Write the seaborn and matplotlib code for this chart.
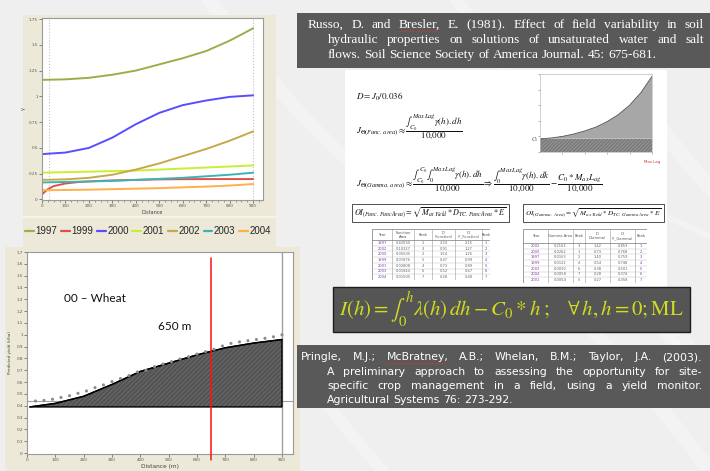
import matplotlib
matplotlib.use("Agg")
import matplotlib.pyplot as plt
from matplotlib.patches import Rectangle, Polygon
from matplotlib.lines import Line2D
from matplotlib.ticker import MultipleLocator, FuncFormatter
from matplotlib import font_manager
import numpy as np
import pandas as pd
import seaborn as sns

sns.set_theme(style="white")
plt.rcParams["font.family"] = ["DejaVu Sans"]
plt.rcParams["mathtext.fontset"] = "stix"
plt.rcParams["hatch.linewidth"] = 0.42

W, H = 710, 471

# ---- seasonal yield-index curves along the transect (m) ----
years = ["1997", "1999", "2000", "2001", "2002", "2003", "2004"]
year_colors = ["#9aae4a", "#e0504a", "#5a4cff", "#c8f032", "#c8a84a", "#3cb4b4", "#ffb04a"]
dist = [0, 100, 200, 300, 400, 500, 600, 700, 800, 900]
dist_1999 = [0, 25, 50, 100, 150, 200, 300, 400, 500, 600, 700, 800, 900]
y1997 = [1.16, 1.165, 1.18, 1.21, 1.25, 1.31, 1.37, 1.44, 1.54, 1.66]
y1999 = [0.05, 0.10, 0.13, 0.155, 0.168, 0.175, 0.185, 0.19, 0.195, 0.197, 0.198, 0.198, 0.198]
y2000 = [0.44, 0.455, 0.50, 0.60, 0.73, 0.84, 0.915, 0.96, 0.995, 1.01]
y2001 = [0.26, 0.265, 0.27, 0.275, 0.28, 0.29, 0.30, 0.31, 0.32, 0.33]
y2002 = [0.19, 0.195, 0.21, 0.24, 0.29, 0.35, 0.42, 0.49, 0.57, 0.66]
y2003 = [0.165, 0.17, 0.175, 0.18, 0.19, 0.20, 0.21, 0.225, 0.24, 0.26]
y2004 = [0.09, 0.092, 0.095, 0.10, 0.105, 0.11, 0.118, 0.125, 0.135, 0.15]

# ---- 2000 wheat transect: fitted trend, observations, threshold ----
wheat_dist = [10, 100, 200, 300, 400, 500, 600, 650, 700, 800, 900]
wheat_fit = [0.39, 0.42, 0.48, 0.58, 0.69, 0.76, 0.83, 0.86, 0.89, 0.93, 0.96]
wheat_obs_dist = [30, 60, 90, 120, 150, 180, 210, 240, 270, 300, 330, 360, 390, 420, 450,
                  480, 510, 540, 570, 600, 630, 660, 690, 720, 750, 780, 810, 840, 870, 900]
wheat_obs = [0.44, 0.445, 0.455, 0.47, 0.485, 0.505, 0.525, 0.553, 0.576, 0.604, 0.63, 0.655,
             0.686, 0.70, 0.73, 0.753, 0.773, 0.795, 0.815, 0.837, 0.857, 0.877, 0.905, 0.927,
             0.94, 0.95, 0.96, 0.97, 0.983, 1.0]
wheat_base = 0.39
wheat_mean = 0.44
cut_dist = 650

# ---- semivariogram sketch (lag vs gamma) ----
lag_small = [0, 1, 2, 3, 4, 5, 6, 7, 8, 9, 10]
gamma_small = [0.17, 0.18, 0.20, 0.23, 0.27, 0.32, 0.39, 0.48, 0.60, 0.76, 0.97]
c0_small = 0.17

# ---- ranking tables ----
func_header = ["Year", "Function\nArea", "Rank", "D\n(Function)", "OI\n(F_Function)", "Rank"]
func_years = ["1997", "2002", "2000", "1999", "2001", "2003", "2004"]
func_area = ["0.42030", "0.10327", "0.05635", "0.01876", "0.02808", "0.01844", "0.01505"]
func_area_rank = ["1", "3", "2", "5", "4", "6", "7"]
func_d = ["2.34", "0.91", "1.54", "0.47", "0.73", "0.52", "0.28"]
func_oi = ["2.15", "1.27", "1.26", "0.99", "0.89", "0.67", "0.48"]
func_oi_rank = ["1", "2", "3", "4", "5", "6", "7"]

gamma_header = ["Year", "Gamma Area", "Rank", "D\n(Gamma)", "OI\n(F_Gamma)", "Rank"]
gamma_years = ["2002", "2000", "1997", "1999", "2003", "2004", "2001"]
gamma_area = ["0.2163", "0.0262", "0.0163", "0.0122", "0.0092", "0.0058", "0.0054"]
gamma_area_rank = ["3", "1", "2", "4", "6", "7", "5"]
gamma_d = ["1.42", "0.73", "1.40", "0.54", "0.38", "0.28", "0.27"]
gamma_oi = ["0.853", "0.768", "0.759", "0.748", "0.501", "0.374", "0.358"]
gamma_oi_rank = ["1", "2", "3", "4", "5", "6", "7"]

russo_lines = [
    "Russo, D. and Bresler, E. (1981). Effect of field variability in soil",
    "hydraulic properties on solutions of unsaturated water and salt",
    "flows.  Soil Science Society of America Journal. 45: 675-681.",
]
pringle_lines = [
    "Pringle, M.J.; McBratney, A.B.; Whelan, B.M.; Taylor, J.A. (2003).",
    "A preliminary approach to assessing the opportunity for site-",
    "specific crop management in a field, using a yield monitor.",
    "Agricultural Systems 76: 273-292.",
]

BEIGE = "#ece9d8"
DARK = "#595959"


def fx(x):
    return np.asarray(x) / W if np.ndim(x) else x / W


def fy(y):
    return 1 - np.asarray(y) / H if np.ndim(y) else 1 - y / H


def box(x0, y0, x1, y1):
    return [x0 / W, 1 - y1 / H, (x1 - x0) / W, (y1 - y0) / H]


def panel(x0, y0, x1, y1, fc, ec="none", lw=0, z=0):
    fig.add_artist(Rectangle((fx(x0), fy(y1)), (x1 - x0) / W, (y1 - y0) / H,
                             transform=fig.transFigure, facecolor=fc, edgecolor=ec,
                             linewidth=lw, zorder=z))


installed = {f.name for f in font_manager.fontManager.ttflist}
if "Liberation Sans Narrow" in installed:
    legend_prop = {"family": "Liberation Sans Narrow", "size": 8.2}
else:
    legend_prop = {"family": "Liberation Sans", "size": 7.0}

fig = plt.figure(figsize=(W / 100, H / 100), dpi=100, facecolor="#efefef")
renderer = fig.canvas.get_renderer()

# faint wave streaks on the slide background
t = np.linspace(0, 1, 60)
for x_start, y_start, amp, thick in [(200, 0, 30, 18), (450, 0, 40, 14), (600, 60, 35, 20),
                                     (560, 200, 45, 16), (640, 300, 30, 22), (300, 380, 25, 15)]:
    xs = x_start + 500 * t
    ys = y_start + 470 * t + amp * np.sin(t * np.pi * 2)
    upper = np.column_stack([fx(xs), fy(ys)])
    lower = np.column_stack([fx(xs + thick)[::-1], fy(ys)[::-1]])
    fig.add_artist(Polygon(np.vstack([upper, lower]), closed=True, transform=fig.transFigure,
                           facecolor="white", edgecolor="none", alpha=0.3, zorder=0))

# background panels
panel(23, 15, 276, 247, BEIGE)
panel(5, 247, 300, 471, BEIGE)
panel(297, 13, 710, 68, DARK)
panel(345, 70, 667, 287, "white")
panel(333, 287, 690, 332, "#555555", ec="#1e1e1e", lw=1.0, z=1)
panel(297, 345, 710, 408, DARK)

# ---------------- top chart: curves per season ----------------
frames = []
for yr, xs, ys in [("1997", dist, y1997), ("1999", dist_1999, y1999), ("2000", dist, y2000),
                   ("2001", dist, y2001), ("2002", dist, y2002), ("2003", dist, y2003),
                   ("2004", dist, y2004)]:
    frames.append(pd.DataFrame({"Distance": xs, "value": ys, "Year": yr}))
curves = pd.concat(frames, ignore_index=True)

ax1 = fig.add_axes(box(42, 18, 263, 200))
ax1.set_facecolor("white")
ax1.axvline(30, color="#c0c0c0", lw=0.8, ls=":")
ax1.axvline(900, color="#c0c0c0", lw=0.8, ls=":")
sns.lineplot(data=curves, x="Distance", y="value", hue="Year", hue_order=years,
             palette=dict(zip(years, year_colors)), lw=1.4, estimator=None,
             sort=False, ax=ax1)
ax1.set_xlim(0, 942)
ax1.set_ylim(-0.005, 1.76)
ax1.xaxis.set_major_locator(MultipleLocator(100))
ax1.xaxis.set_minor_locator(MultipleLocator(25))
ax1.yaxis.set_major_locator(MultipleLocator(0.25))
ax1.yaxis.set_major_formatter(FuncFormatter(lambda v, p: f"{v:g}"))
ax1.tick_params(axis="both", which="major", labelsize=3, length=2, width=0.5,
                colors="#555555", pad=1, bottom=True, left=True)
ax1.tick_params(axis="x", which="minor", length=1.2, width=0.4, bottom=True, colors="#555555")
ax1.set_xlabel("Distance", fontsize=3.5, labelpad=1, color="#444444")
ax1.set_ylabel("γ", fontsize=3.5, labelpad=2, color="#444444")
for s in ax1.spines.values():
    s.set_color("#9a9a9a")
    s.set_linewidth(0.8)
sns.move_legend(ax1, "center", bbox_to_anchor=((148 - 42) / 221, (200 - 231) / 182),
                ncol=7, frameon=False, title=None, handlelength=0.9, handletextpad=0.15,
                columnspacing=0.4, borderpad=0, prop=legend_prop)
for line in ax1.get_legend().get_lines():
    line.set_linewidth(1.6)
fig.add_artist(Line2D([fx(23), fx(276)], [fy(217), fy(217)], color="#f8f6ee", lw=1.2))

# ---------------- bottom chart: 2000 wheat transect ----------------
ax2 = fig.add_axes(box(27, 252, 293, 454))
ax2.set_facecolor("white")
ax2.fill_between(wheat_dist, wheat_base, wheat_fit, facecolor="white", edgecolor="black",
                 hatch="/" * 26, lw=1.0, zorder=2)
sns.lineplot(x=wheat_dist, y=wheat_fit, color="black", lw=1.0, ax=ax2, zorder=3)
sns.scatterplot(x=wheat_obs_dist, y=wheat_obs, color="#8c8c8c", s=5, edgecolor="none",
                ax=ax2, zorder=3)
ax2.axhline(wheat_mean, color="#a0a0a0", lw=0.8, zorder=1)
ax2.axvline(900, color="#a0a0a0", lw=1.0, zorder=1)
ax2.plot([cut_dist, cut_dist], [-0.06, 1.65], color="#ff1010", lw=1.1, clip_on=False, zorder=4)
ax2.set_xlim(0, 939)
ax2.set_ylim(-0.008, 1.7)
ax2.xaxis.set_major_locator(MultipleLocator(100))
ax2.yaxis.set_major_locator(MultipleLocator(0.1))
ax2.yaxis.set_major_formatter(FuncFormatter(lambda v, p: f"{round(v, 1):g}"))
ax2.tick_params(axis="both", labelsize=3, length=2, width=0.5, colors="#555555", pad=1,
                bottom=True, left=True)
ax2.set_xlabel("Distance (m)", fontsize=4.2, labelpad=1, color="#444444")
ax2.set_ylabel("Predicted yield (t/ha)", fontsize=3, labelpad=3, color="#444444")
for s in ax2.spines.values():
    s.set_color("#9a9a9a")
    s.set_linewidth(0.8)
fig.text(fx(64), fy(298), "00 – Wheat", fontsize=8.5, family=["Lato", "DejaVu Sans"],
         va="center", ha="left", color="#111111")
fig.text(fx(158), fy(327), f"{cut_dist} m", fontsize=8.5, family=["Lato", "DejaVu Sans"],
         va="center", ha="left", color="#111111")


# ---------------- justified reference text ----------------
def text_line(s, x0, x1, y, size, family, color, justify=True, squiggle=()):
    words = s.split()
    objs = [fig.text(0, fy(y), w, fontsize=size, family=family, color=color,
                     va="center", ha="left", zorder=5) for w in words]
    widths = [o.get_window_extent(renderer).width for o in objs]
    if justify and len(words) > 1:
        gap = (x1 - x0 - sum(widths)) / (len(words) - 1)
    else:
        probe = fig.text(0, 0, "a a", fontsize=size, family=family)
        probe2 = fig.text(0, 0, "aa", fontsize=size, family=family)
        gap = probe.get_window_extent(renderer).width - probe2.get_window_extent(renderer).width
        probe.remove()
        probe2.remove()
    x = x0
    for o, w, word in zip(objs, widths, words):
        o.set_x(fx(x))
        if word.rstrip(",;") in squiggle:
            xs = np.linspace(x, x + w - 3, 16)
            ys = y + 6.0 + np.where(np.arange(16) % 2 == 0, 0, 1.0)
            fig.add_artist(Line2D(fx(xs), fy(ys), color="#e03030", lw=0.4, zorder=6))
        x += w + gap


serif = ["Liberation Serif", "DejaVu Serif"]
text_line(russo_lines[0], 308, 704, 25, 9.6, serif, "white", squiggle=("Bresler",))
text_line(russo_lines[1], 328, 704, 40, 9.6, serif, "white")
text_line(russo_lines[2], 328, 704, 55, 9.6, serif, "white", justify=False)

sans = ["DejaVu Sans"]
text_line(pringle_lines[0], 301, 702, 357, 7.8, sans, "white", squiggle=("McBratney",))
text_line(pringle_lines[1], 327, 702, 372, 7.8, sans, "white")
text_line(pringle_lines[2], 327, 702, 386, 7.8, sans, "white")
text_line(pringle_lines[3], 327, 702, 400, 7.8, sans, "white", justify=False)

# ---------------- formulas ----------------
fig.text(fx(511), fy(309),
         r"$I(h) = \int_0^h \lambda(h)\,dh - C_0 * h\;;\quad \forall\, h, h = 0;\mathrm{ML}$",
         fontsize=15, color="#d2dc1e", ha="center", va="center", zorder=5)

fig.text(fx(356), fy(97), r"$D = J_0/0.036$", fontsize=6.5, va="center", color="#111111")
fig.text(fx(356), fy(127),
         r"$J_{\Theta(Func.\,area)} \approx \dfrac{\int_{C_0}^{Max\,Lag}\gamma(h).dh}{10{,}000}$",
         fontsize=6.5, va="center", color="#111111")
fig.text(fx(356), fy(180),
         r"$J_{\Theta(Gamma.\,area)} \approx \dfrac{\int_{C_0}^{C_0}\int_{0}^{Max\,Lag}\gamma(h).dh}"
         r"{10{,}000} \Rightarrow \dfrac{\int_{0}^{Max\,Lag}\gamma(h).dk}{10{,}000}"
         r" - \dfrac{C_0 * M_{ax}L_{ag}}{10{,}000}$",
         fontsize=6.5, va="center", color="#111111")
fig.text(fx(354), fy(213),
         r"$OI_{(Func.\,Func\,Area)} = \sqrt{M_{ax\,Yield} * D_{TC.\,Func\,Area} * E}$",
         fontsize=5.9, va="center", color="#111111",
         bbox=dict(boxstyle="square,pad=0.25", fc="white", ec="#333333", lw=0.6))
fig.text(fx(525), fy(213),
         r"$OI_{(Gamma.\,Area)} = \sqrt{M_{ax\,Yield} * D_{TC.\,Gamma\,Area} * E}$",
         fontsize=5.2, va="center", color="#111111",
         bbox=dict(boxstyle="square,pad=0.3", fc="white", ec="#333333", lw=0.6))

# ---------------- semivariogram sketch ----------------
ax3 = fig.add_axes(box(540, 74, 652, 152))
ax3.set_facecolor("white")
ax3.fill_between(lag_small, 0, c0_small, facecolor="white", edgecolor="#333333",
                 hatch="/" * 24, lw=0)
ax3.fill_between(lag_small, c0_small, gamma_small, facecolor="white", edgecolor="#8a8a8a",
                 hatch="\\" * 30, lw=0)
sns.lineplot(x=lag_small, y=gamma_small, color="#555555", lw=0.6, ax=ax3)
ax3.set_xlim(0, 10)
ax3.set_ylim(0, 1)
ax3.set_xticks([2, 4, 6, 8, 10])
ax3.set_yticks([0, 0.2, 0.4, 0.6, 0.8, 1.0])
ax3.set_xticklabels(["", "", "", "", ""])
ax3.set_yticklabels(["", "", "", "", "", ""])
ax3.tick_params(axis="both", length=1.5, width=0.4, colors="#777777", bottom=True, left=True)
for s in ax3.spines.values():
    s.set_color("#bbbbbb")
    s.set_linewidth(0.5)
fig.text(fx(531), fy(140), r"$C_0$", fontsize=4, color="#444444", va="center")
fig.text(fx(652), fy(162), "Max Lag", fontsize=2.8, color="#d03030", va="center", ha="center")


# ---------------- ranking tables ----------------
def draw_table(bounds, y_top, y_head, row_h, header, cols, accent):
    x0, x1 = bounds[0], bounds[-1]
    y_bot = y_head + row_h * len(cols[0])
    ax = fig.add_axes(box(x0, y_top, x1, y_bot))
    ax.set_xlim(x0, x1)
    ax.set_ylim(y_bot, y_top)
    ax.axis("off")
    ax.add_patch(Rectangle((x0, y_top), x1 - x0, y_bot - y_top, fc="white", ec="#777777", lw=0.5))
    for xb in bounds[1:-1]:
        ax.plot([xb, xb], [y_top, y_bot], color="#999999", lw=0.4)
    ax.plot([x0, x1], [y_head, y_head], color="#777777", lw=0.5)
    for i in range(1, len(cols[0])):
        yy = y_head + i * row_h
        ax.plot([x0, x1], [yy, yy], color="#bbbbbb", lw=0.3)
    for j, h in enumerate(header):
        xc = (bounds[j] + bounds[j + 1]) / 2
        ax.text(xc, (y_top + y_head) / 2, h, fontsize=2.6, ha="center", va="center",
                color="#555555", linespacing=1.0)
    for j, col in enumerate(cols):
        xc = (bounds[j] + bounds[j + 1]) / 2
        c = accent if j in (0, 5) else "#666666"
        for i, v in enumerate(col):
            ax.text(xc, y_head + (i + 0.5) * row_h, v, fontsize=2.6, ha="center",
                    va="center", color=c)


draw_table([372, 392, 414, 432, 455, 482, 490], 229, 240, 5.7, func_header,
           [func_years, func_area, func_area_rank, func_d, func_oi, func_oi_rank], "#8040a0")
draw_table([523, 548, 573, 585, 610, 635, 647], 229, 243, 5.7, gamma_header,
           [gamma_years, gamma_area, gamma_area_rank, gamma_d, gamma_oi, gamma_oi_rank],
           "#8040a0")

fig.savefig("out.png", dpi=100, facecolor=fig.get_facecolor())
